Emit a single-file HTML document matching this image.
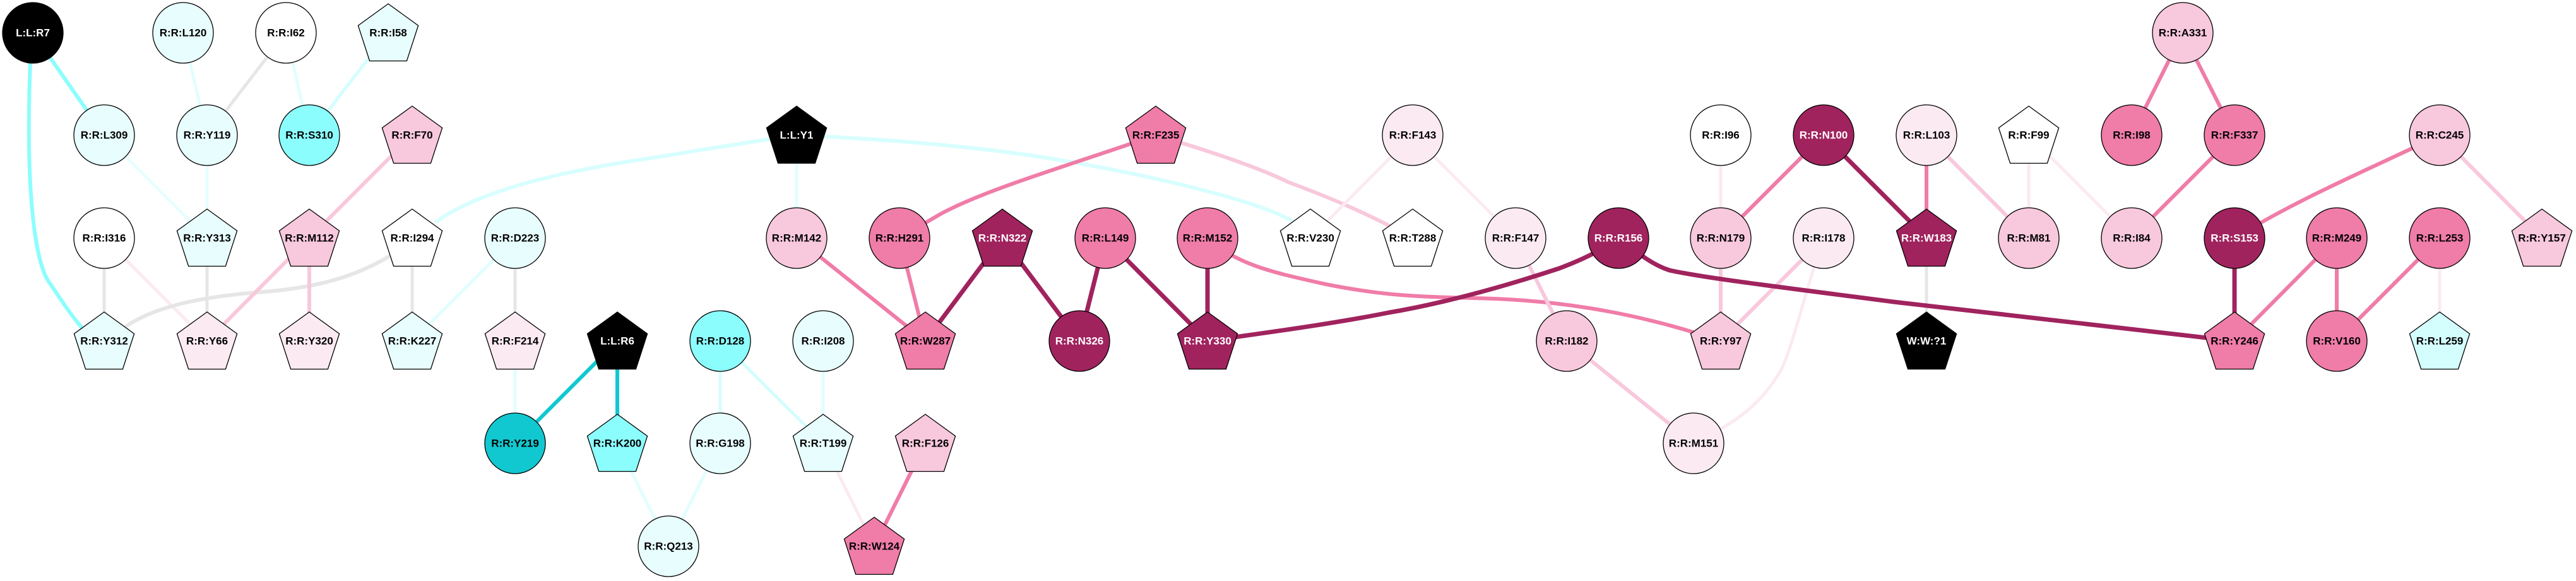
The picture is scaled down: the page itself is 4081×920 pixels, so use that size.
<!DOCTYPE html>
<html><head><meta charset="utf-8"><style>
html,body{margin:0;padding:0;background:#fff}
svg{display:block}
text{font-family:"Liberation Sans",Arial,sans-serif;font-weight:bold;font-size:17px;text-anchor:middle;dominant-baseline:central}
.w{fill:#fff}
</style></head><body>
<svg width="4081" height="920" viewBox="0 0 4081 920" xmlns="http://www.w3.org/2000/svg">
<g fill="none" stroke-linecap="butt">
<!-- cyan / gray edges -->
<line x1="52" y1="52" x2="165" y2="214" stroke="#8cfdfd" stroke-width="6"/>
<path d="M48,100 C40,300 55,420 80,450 C100,480 120,510 140,530" stroke="#8cfdfd" stroke-width="6"/>
<line x1="290" y1="52" x2="328" y2="214" stroke="#e2fefe" stroke-width="5"/>
<line x1="453" y1="52" x2="328" y2="214" stroke="#e6e6e6" stroke-width="5"/>
<line x1="453" y1="52" x2="490" y2="214" stroke="#e2fefe" stroke-width="5"/>
<line x1="615" y1="52" x2="490" y2="214" stroke="#d4fefe" stroke-width="5"/>
<line x1="165" y1="214" x2="328" y2="377" stroke="#e8fefe" stroke-width="5"/>
<line x1="328" y1="214" x2="328" y2="377" stroke="#e8fefe" stroke-width="5"/>
<line x1="165" y1="377" x2="165" y2="540" stroke="#e6e6e6" stroke-width="5"/>
<line x1="165" y1="377" x2="328" y2="540" stroke="#fbeaf2" stroke-width="5"/>
<line x1="328" y1="377" x2="328" y2="540" stroke="#e6e6e6" stroke-width="5"/>
<path d="M618,405 C560,440 500,455 420,462 C340,468 250,480 195,520" stroke="#e6e6e6" stroke-width="6"/>
<path d="M690,352 C760,300 900,270 1020,252 C1120,236 1180,226 1262,214" stroke="#d8fefe" stroke-width="6"/>
<line x1="653" y1="377" x2="653" y2="540" stroke="#e6e6e6" stroke-width="5"/>
<line x1="816" y1="377" x2="653" y2="540" stroke="#e2fefe" stroke-width="5"/>
<line x1="816" y1="377" x2="816" y2="540" stroke="#e6e6e6" stroke-width="5"/>
<line x1="816" y1="540" x2="816" y2="702" stroke="#e2fefe" stroke-width="5"/>
<line x1="978" y1="540" x2="816" y2="702" stroke="#12c8d0" stroke-width="6"/>
<line x1="978" y1="540" x2="978" y2="702" stroke="#12c8d0" stroke-width="6"/>
<line x1="978" y1="702" x2="1059" y2="865" stroke="#e2fefe" stroke-width="5"/>
<line x1="1141" y1="540" x2="1141" y2="702" stroke="#d4fefe" stroke-width="5"/>
<line x1="1141" y1="540" x2="1304" y2="702" stroke="#d4fefe" stroke-width="5"/>
<line x1="1304" y1="540" x2="1304" y2="702" stroke="#e2fefe" stroke-width="5"/>
<line x1="1141" y1="702" x2="1059" y2="865" stroke="#e2fefe" stroke-width="5"/>
<line x1="1304" y1="702" x2="1385" y2="865" stroke="#fbeaf2" stroke-width="5"/>
<line x1="1262" y1="214" x2="1262" y2="377" stroke="#e2fefe" stroke-width="5"/>
<path d="M1262,214 C1400,220 1550,232 1671,252 C1850,282 1990,320 2040,346 C2060,356 2070,365 2076,377" stroke="#d8fefe" stroke-width="6"/>
<!-- pink edges -->
<line x1="653" y1="214" x2="490" y2="377" stroke="#f8c8dc" stroke-width="6"/>
<line x1="490" y1="377" x2="328" y2="540" stroke="#f8c8dc" stroke-width="6"/>
<line x1="490" y1="377" x2="490" y2="540" stroke="#f8c8dc" stroke-width="6"/>
<line x1="1466" y1="702" x2="1385" y2="865" stroke="#f07ca8" stroke-width="6"/>
<path d="M1831,214 C1700,260 1560,300 1488,340 L1425,377" stroke="#f07ca8" stroke-width="6"/>
<path d="M1831,214 C1920,240 2000,268 2040,288 C2120,318 2170,340 2238,377" stroke="#f8c8dc" stroke-width="6"/>
<line x1="1262" y1="377" x2="1466" y2="540" stroke="#f07ca8" stroke-width="6"/>
<line x1="1425" y1="377" x2="1466" y2="540" stroke="#f07ca8" stroke-width="6"/>
<path d="M1913,377 C1960,420 2020,432 2100,450 C2200,470 2260,470 2333,472 C2450,474 2580,490 2726,540" stroke="#f07ca8" stroke-width="6"/>
<line x1="2238" y1="214" x2="2076" y2="377" stroke="#fbeaf2" stroke-width="5"/>
<line x1="2238" y1="214" x2="2401" y2="377" stroke="#fbeaf2" stroke-width="5"/>
<line x1="2401" y1="377" x2="2482" y2="540" stroke="#f8c8dc" stroke-width="6"/>
<line x1="2482" y1="540" x2="2683" y2="702" stroke="#f8c8dc" stroke-width="6"/>
<path d="M2889,377 C2860,460 2840,550 2821,587 C2790,640 2750,670 2683,702" stroke="#fbeaf2" stroke-width="5"/>
<line x1="2726" y1="214" x2="2726" y2="377" stroke="#fbeaf2" stroke-width="5"/>
<line x1="2889" y1="214" x2="2726" y2="377" stroke="#f07ca8" stroke-width="6"/>
<line x1="2726" y1="377" x2="2726" y2="540" stroke="#f8c8dc" stroke-width="6"/>
<line x1="2889" y1="377" x2="2726" y2="540" stroke="#f8c8dc" stroke-width="6"/>
<line x1="3052" y1="214" x2="3052" y2="377" stroke="#f07ca8" stroke-width="6"/>
<line x1="3052" y1="377" x2="3052" y2="540" stroke="#e6e6e6" stroke-width="5"/>
<line x1="3052" y1="214" x2="3214" y2="377" stroke="#f8c8dc" stroke-width="6"/>
<line x1="3214" y1="214" x2="3214" y2="377" stroke="#fbeaf2" stroke-width="5"/>
<line x1="3214" y1="214" x2="3377" y2="377" stroke="#fbeaf2" stroke-width="5"/>
<line x1="3458" y1="52" x2="3377" y2="214" stroke="#f07ca8" stroke-width="6"/>
<line x1="3458" y1="52" x2="3540" y2="214" stroke="#f07ca8" stroke-width="6"/>
<line x1="3540" y1="214" x2="3377" y2="377" stroke="#f07ca8" stroke-width="6"/>
<path d="M3865,214 C3750,270 3650,310 3540,377" stroke="#f07ca8" stroke-width="6"/>
<line x1="3865" y1="214" x2="4027" y2="377" stroke="#f8c8dc" stroke-width="6"/>
<line x1="3702" y1="377" x2="3540" y2="540" stroke="#f07ca8" stroke-width="6"/>
<line x1="3702" y1="377" x2="3702" y2="540" stroke="#f07ca8" stroke-width="6"/>
<line x1="3865" y1="377" x2="3702" y2="540" stroke="#f07ca8" stroke-width="6"/>
<line x1="3865" y1="377" x2="3865" y2="540" stroke="#fbeaf2" stroke-width="5"/>
<!-- dark edges -->
<line x1="1588" y1="377" x2="1466" y2="540" stroke="#a0235e" stroke-width="7"/>
<line x1="1588" y1="377" x2="1710" y2="540" stroke="#a0235e" stroke-width="7"/>
<line x1="1751" y1="377" x2="1710" y2="540" stroke="#a0235e" stroke-width="7"/>
<line x1="1751" y1="377" x2="1913" y2="540" stroke="#a0235e" stroke-width="7"/>
<line x1="1913" y1="377" x2="1913" y2="540" stroke="#a0235e" stroke-width="7"/>
<path d="M1913,540 C1980,530 2100,515 2200,495 C2300,478 2400,448 2470,425 C2510,410 2540,395 2564,377" stroke="#a0235e" stroke-width="7"/>
<path d="M2564,377 C2600,405 2620,420 2645,428 C2700,440 2800,452 3000,478 L3540,540" stroke="#a0235e" stroke-width="7"/>
<line x1="2889" y1="214" x2="3052" y2="377" stroke="#a0235e" stroke-width="7"/>
<line x1="3540" y1="377" x2="3540" y2="540" stroke="#a0235e" stroke-width="7"/>
</g>
<g stroke="#000" stroke-width="1.3">
<!-- circles -->
<circle cx="52" cy="52" r="48" fill="#000"/>
<circle cx="290" cy="52" r="48" fill="#e8fefe"/>
<circle cx="453" cy="52" r="48" fill="#fff"/>
<circle cx="165" cy="214" r="48" fill="#e8fefe"/>
<circle cx="328" cy="214" r="48" fill="#e8fefe"/>
<circle cx="490" cy="214" r="48" fill="#8cfdfd"/>
<circle cx="165" cy="377" r="48" fill="#fff"/>
<circle cx="816" cy="377" r="48" fill="#e8fefe"/>
<circle cx="816" cy="702" r="48" fill="#12c8d0"/>
<circle cx="1059" cy="865" r="48" fill="#e8fefe"/>
<circle cx="1262" cy="377" r="48" fill="#f8c8dc"/>
<circle cx="1425" cy="377" r="48" fill="#f07ca8"/>
<circle cx="1751" cy="377" r="48" fill="#f07ca8"/>
<circle cx="1913" cy="377" r="48" fill="#f07ca8"/>
<circle cx="1141" cy="540" r="48" fill="#8cfdfd"/>
<circle cx="1304" cy="540" r="48" fill="#e8fefe"/>
<circle cx="1710" cy="540" r="48" fill="#a0235e"/>
<circle cx="1141" cy="702" r="48" fill="#e8fefe"/>
<circle cx="2238" cy="214" r="48" fill="#fbeaf2"/>
<circle cx="2726" cy="214" r="48" fill="#fff"/>
<circle cx="2889" cy="214" r="48" fill="#a0235e"/>
<circle cx="3052" cy="214" r="48" fill="#fbeaf2"/>
<circle cx="2401" cy="377" r="48" fill="#fbeaf2"/>
<circle cx="2564" cy="377" r="48" fill="#a0235e"/>
<circle cx="2726" cy="377" r="48" fill="#f8c8dc"/>
<circle cx="2889" cy="377" r="48" fill="#fbeaf2"/>
<circle cx="2482" cy="540" r="48" fill="#f8c8dc"/>
<circle cx="2683" cy="702" r="48" fill="#fbeaf2"/>
<circle cx="3458" cy="52" r="48" fill="#f8c8dc"/>
<circle cx="3377" cy="214" r="48" fill="#f07ca8"/>
<circle cx="3540" cy="214" r="48" fill="#f07ca8"/>
<circle cx="3865" cy="214" r="48" fill="#f8c8dc"/>
<circle cx="3214" cy="377" r="48" fill="#f8c8dc"/>
<circle cx="3377" cy="377" r="48" fill="#f8c8dc"/>
<circle cx="3540" cy="377" r="48" fill="#a0235e"/>
<circle cx="3702" cy="377" r="48" fill="#f07ca8"/>
<circle cx="3865" cy="377" r="48" fill="#f07ca8"/>
<circle cx="3702" cy="540" r="48" fill="#f07ca8"/>
<!-- pentagons -->
<g fill="#e8fefe"><polygon transform="translate(615,52)" points="0,-46 47.6,-11.5 29.4,44.5 -29.4,44.5 -47.6,-11.5"/></g>
<g fill="#f8c8dc"><polygon transform="translate(653,214)" points="0,-46 47.6,-11.5 29.4,44.5 -29.4,44.5 -47.6,-11.5"/></g>
<g fill="#e8fefe"><polygon transform="translate(328,377)" points="0,-46 47.6,-11.5 29.4,44.5 -29.4,44.5 -47.6,-11.5"/></g>
<g fill="#f8c8dc"><polygon transform="translate(490,377)" points="0,-46 47.6,-11.5 29.4,44.5 -29.4,44.5 -47.6,-11.5"/></g>
<g fill="#fff"><polygon transform="translate(653,377)" points="0,-46 47.6,-11.5 29.4,44.5 -29.4,44.5 -47.6,-11.5"/></g>
<g fill="#e8fefe"><polygon transform="translate(165,540)" points="0,-46 47.6,-11.5 29.4,44.5 -29.4,44.5 -47.6,-11.5"/></g>
<g fill="#fbeaf2"><polygon transform="translate(328,540)" points="0,-46 47.6,-11.5 29.4,44.5 -29.4,44.5 -47.6,-11.5"/></g>
<g fill="#fbeaf2"><polygon transform="translate(490,540)" points="0,-46 47.6,-11.5 29.4,44.5 -29.4,44.5 -47.6,-11.5"/></g>
<g fill="#e8fefe"><polygon transform="translate(653,540)" points="0,-46 47.6,-11.5 29.4,44.5 -29.4,44.5 -47.6,-11.5"/></g>
<g fill="#fbeaf2"><polygon transform="translate(816,540)" points="0,-46 47.6,-11.5 29.4,44.5 -29.4,44.5 -47.6,-11.5"/></g>
<g fill="#000"><polygon transform="translate(978,540)" points="0,-46 47.6,-11.5 29.4,44.5 -29.4,44.5 -47.6,-11.5"/></g>
<g fill="#8cfdfd"><polygon transform="translate(978,702)" points="0,-46 47.6,-11.5 29.4,44.5 -29.4,44.5 -47.6,-11.5"/></g>
<g fill="#000"><polygon transform="translate(1262,214)" points="0,-46 47.6,-11.5 29.4,44.5 -29.4,44.5 -47.6,-11.5"/></g>
<g fill="#f07ca8"><polygon transform="translate(1831,214)" points="0,-46 47.6,-11.5 29.4,44.5 -29.4,44.5 -47.6,-11.5"/></g>
<g fill="#a0235e"><polygon transform="translate(1588,377)" points="0,-46 47.6,-11.5 29.4,44.5 -29.4,44.5 -47.6,-11.5"/></g>
<g fill="#f07ca8"><polygon transform="translate(1466,540)" points="0,-46 47.6,-11.5 29.4,44.5 -29.4,44.5 -47.6,-11.5"/></g>
<g fill="#a0235e"><polygon transform="translate(1913,540)" points="0,-46 47.6,-11.5 29.4,44.5 -29.4,44.5 -47.6,-11.5"/></g>
<g fill="#e8fefe"><polygon transform="translate(1304,702)" points="0,-46 47.6,-11.5 29.4,44.5 -29.4,44.5 -47.6,-11.5"/></g>
<g fill="#f8c8dc"><polygon transform="translate(1466,702)" points="0,-46 47.6,-11.5 29.4,44.5 -29.4,44.5 -47.6,-11.5"/></g>
<g fill="#f07ca8"><polygon transform="translate(1385,865)" points="0,-46 47.6,-11.5 29.4,44.5 -29.4,44.5 -47.6,-11.5"/></g>
<g fill="#fff"><polygon transform="translate(2076,377)" points="0,-46 47.6,-11.5 29.4,44.5 -29.4,44.5 -47.6,-11.5"/></g>
<g fill="#fff"><polygon transform="translate(2238,377)" points="0,-46 47.6,-11.5 29.4,44.5 -29.4,44.5 -47.6,-11.5"/></g>
<g fill="#a0235e"><polygon transform="translate(3052,377)" points="0,-46 47.6,-11.5 29.4,44.5 -29.4,44.5 -47.6,-11.5"/></g>
<g fill="#f8c8dc"><polygon transform="translate(2726,540)" points="0,-46 47.6,-11.5 29.4,44.5 -29.4,44.5 -47.6,-11.5"/></g>
<g fill="#000"><polygon transform="translate(3052,540)" points="0,-46 47.6,-11.5 29.4,44.5 -29.4,44.5 -47.6,-11.5"/></g>
<g fill="#fff"><polygon transform="translate(3214,214)" points="0,-46 47.6,-11.5 29.4,44.5 -29.4,44.5 -47.6,-11.5"/></g>
<g fill="#f8c8dc"><polygon transform="translate(4027,377)" points="0,-46 47.6,-11.5 29.4,44.5 -29.4,44.5 -47.6,-11.5"/></g>
<g fill="#f07ca8"><polygon transform="translate(3540,540)" points="0,-46 47.6,-11.5 29.4,44.5 -29.4,44.5 -47.6,-11.5"/></g>
<g fill="#d4fefe"><polygon transform="translate(3865,540)" points="0,-46 47.6,-11.5 29.4,44.5 -29.4,44.5 -47.6,-11.5"/></g>
</g>
<g>
<text x="52" y="52" class="w">L:L:R7</text>
<text x="290" y="52">R:R:L120</text>
<text x="453" y="52">R:R:I62</text>
<text x="615" y="52">R:R:I58</text>
<text x="165" y="214">R:R:L309</text>
<text x="328" y="214">R:R:Y119</text>
<text x="490" y="214">R:R:S310</text>
<text x="653" y="214">R:R:F70</text>
<text x="165" y="377">R:R:I316</text>
<text x="328" y="377">R:R:Y313</text>
<text x="490" y="377">R:R:M112</text>
<text x="653" y="377">R:R:I294</text>
<text x="816" y="377">R:R:D223</text>
<text x="165" y="540">R:R:Y312</text>
<text x="328" y="540">R:R:Y66</text>
<text x="490" y="540">R:R:Y320</text>
<text x="653" y="540">R:R:K227</text>
<text x="816" y="540">R:R:F214</text>
<text x="978" y="540" class="w">L:L:R6</text>
<text x="816" y="702">R:R:Y219</text>
<text x="978" y="702">R:R:K200</text>
<text x="1059" y="865">R:R:Q213</text>
<text x="1262" y="214" class="w">L:L:Y1</text>
<text x="1831" y="214">R:R:F235</text>
<text x="1262" y="377">R:R:M142</text>
<text x="1425" y="377">R:R:H291</text>
<text x="1588" y="377" class="w">R:R:N322</text>
<text x="1751" y="377">R:R:L149</text>
<text x="1913" y="377">R:R:M152</text>
<text x="1141" y="540">R:R:D128</text>
<text x="1304" y="540">R:R:I208</text>
<text x="1466" y="540">R:R:W287</text>
<text x="1710" y="540" class="w">R:R:N326</text>
<text x="1913" y="540" class="w">R:R:Y330</text>
<text x="1141" y="702">R:R:G198</text>
<text x="1304" y="702">R:R:T199</text>
<text x="1466" y="702">R:R:F126</text>
<text x="1385" y="865">R:R:W124</text>
<text x="2238" y="214">R:R:F143</text>
<text x="2726" y="214">R:R:I96</text>
<text x="2889" y="214" class="w">R:R:N100</text>
<text x="3052" y="214">R:R:L103</text>
<text x="2076" y="377">R:R:V230</text>
<text x="2238" y="377">R:R:T288</text>
<text x="2401" y="377">R:R:F147</text>
<text x="2564" y="377" class="w">R:R:R156</text>
<text x="2726" y="377">R:R:N179</text>
<text x="2889" y="377">R:R:I178</text>
<text x="3052" y="377" class="w">R:R:W183</text>
<text x="2482" y="540">R:R:I182</text>
<text x="2726" y="540">R:R:Y97</text>
<text x="3052" y="540" class="w">W:W:?1</text>
<text x="2683" y="702">R:R:M151</text>
<text x="3458" y="52">R:R:A331</text>
<text x="3214" y="214">R:R:F99</text>
<text x="3377" y="214">R:R:I98</text>
<text x="3540" y="214">R:R:F337</text>
<text x="3865" y="214">R:R:C245</text>
<text x="3214" y="377">R:R:M81</text>
<text x="3377" y="377">R:R:I84</text>
<text x="3540" y="377" class="w">R:R:S153</text>
<text x="3702" y="377">R:R:M249</text>
<text x="3865" y="377">R:R:L253</text>
<text x="4027" y="377">R:R:Y157</text>
<text x="3540" y="540">R:R:Y246</text>
<text x="3702" y="540">R:R:V160</text>
<text x="3865" y="540">R:R:L259</text>
</g>
</svg>
</body></html>
